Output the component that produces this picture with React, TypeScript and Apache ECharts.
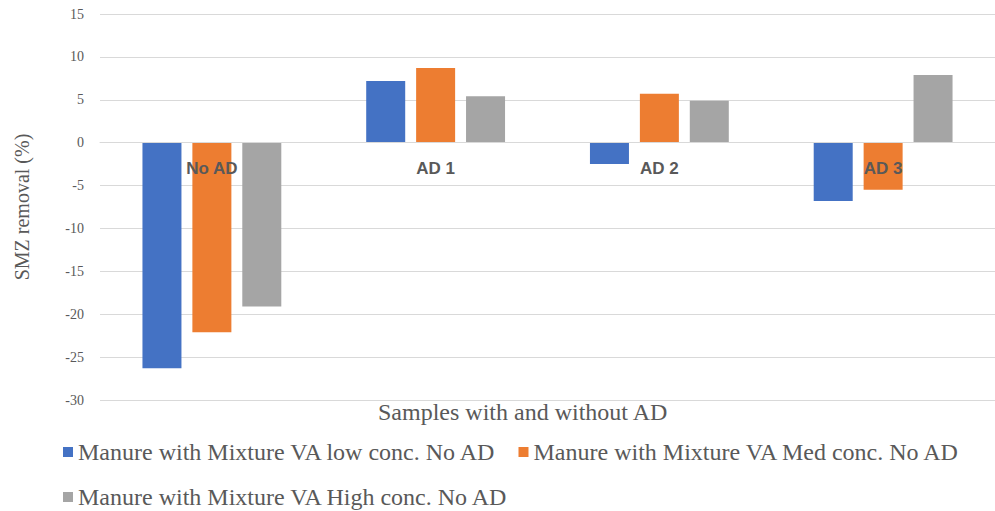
import React, { useEffect, useRef } from "react";
import * as echarts from "echarts";

const categories = ["No AD", "AD 1", "AD 2", "AD 3"];
const seriesNames = [
  "Manure with Mixture VA low conc. No AD",
  "Manure with Mixture VA Med conc. No AD",
  "Manure with Mixture VA High conc. No AD",
];
const lowConc = [-26.3, 7.2, -2.5, -6.8];
const medConc = [-22.1, 8.7, 5.7, -5.5];
const highConc = [-19.1, 5.4, 4.9, 7.9];
const colors = ["#4472C4", "#ED7D31", "#A5A5A5"];

export default function App() {
  const ref = useRef<HTMLDivElement>(null);
  useEffect(() => {
    if (!ref.current) return;
    const chart = echarts.init(ref.current, null, { renderer: "svg" });
    const dataSets = [lowConc, medConc, highConc];
    const serif = "'Times New Roman', 'Liberation Serif', serif";
    chart.setOption({
      animation: false,
      color: colors,
      textStyle: { fontFamily: serif },
      grid: { left: 100, top: 14, width: 900, bottom: 111, containLabel: false },
      legend: {
        left: 58,
        top: 435,
        width: 930,
        itemWidth: 10,
        itemHeight: 10,
        itemGap: 21,
        icon: "rect",
        textStyle: { fontFamily: serif, fontSize: 24, color: "#595959" },
        data: seriesNames,
      },
      graphic: [
        {
          type: "text",
          left: 378,
          top: 400,
          style: {
            text: "Samples with and without AD",
            font: "24px 'Times New Roman', 'Liberation Serif', serif",
            fill: "#595959",
          },
        },
      ],
      xAxis: {
        type: "category",
        data: categories,
        z: 10,
        offset: -258,
        axisTick: { show: false },
        axisLine: { onZero: false, lineStyle: { color: "#d9d9d9", width: 1 } },
        axisLabel: {
          fontFamily: "'Liberation Sans', Arial, sans-serif",
          fontWeight: "bold",
          fontSize: 17,
          color: "#595959",
          margin: 18,
        },
      },
      yAxis: {
        type: "value",
        min: -30,
        max: 15,
        interval: 5,
        name: "SMZ removal (%)",
        nameLocation: "middle",
        nameGap: 68,
        nameTextStyle: { fontFamily: serif, fontSize: 20, color: "#595959" },
        axisLine: { show: false },
        axisTick: { show: false },
        axisLabel: { fontFamily: serif, fontSize: 14, color: "#595959", margin: 16 },
        splitLine: { lineStyle: { color: "#d9d9d9", width: 1 } },
      },
      series: dataSets.map((d, i) => ({
        type: "bar",
        name: seriesNames[i],
        data: d,
        barWidth: 39,
        barGap: "28%",
        itemStyle: { color: colors[i] },
      })),
    });
    return () => chart.dispose();
  }, []);
  return (
    <div
      ref={ref}
      style={{ position: "fixed", left: 0, top: 0, width: 995, height: 511, background: "#fff" }}
    />
  );
}
